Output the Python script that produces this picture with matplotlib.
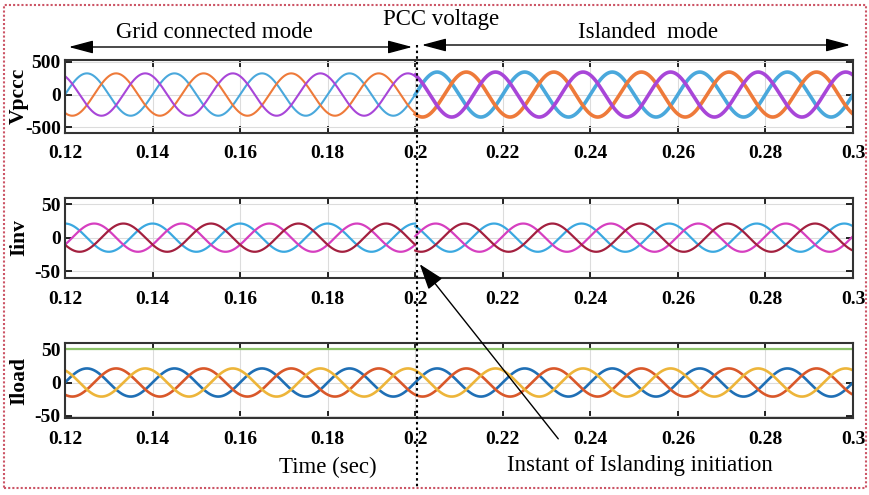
import matplotlib.pyplot as plt
import numpy as np
from matplotlib.patches import FancyArrowPatch, Rectangle
from matplotlib.lines import Line2D

plt.rcParams['font.family'] = ['Liberation Serif', 'DejaVu Serif']
plt.rcParams['axes.unicode_minus'] = False

# ---- values ----
freq = 50                      # Hz, one cycle every 0.02 s
t_start, t_island, t_end = 0.12, 0.2, 0.3

# Vpccc: peak volts and phase (deg) of each phase, grid vs islanded
vpcc_amp_grid = 325
vpcc_amp_isl = 345
vpcc_phase = [0, -120, 120]
vpcc_shift_isl = 0
vpcc_colors = ['#4aa8dc', '#ee7a3a', '#a846d8']

# Iinv: peak amps, cosine phase (deg)
iinv_amp = 21
iinv_phase = [0, -120, -240]
iinv_shift_isl = 36
iinv_colors = ['#3ba8e0', '#d63fc0', '#a3203f']

# Iload: peak amps, phase (deg), plus the flat green trace
iload_amp = 21
iload_phase = [0, -120, 120]
iload_flat = 50
iload_colors = ['#1f6fb5', '#d9582a', '#edb53a']

xticks = [0.12, 0.14, 0.16, 0.18, 0.2, 0.22, 0.24, 0.26, 0.28, 0.3]
xticklabels = ['0.12', '0.14', '0.16', '0.18', '0.2', '0.22', '0.24', '0.26', '0.28', '0.3']

W, H = 870, 495
fig = plt.figure(figsize=(W / 100, H / 100), dpi=100)


def px(x, y):
    return x / W, 1 - y / H


def add_ax(top, bottom):
    ax = fig.add_axes([65 / W, 1 - bottom / H, (853 - 65) / W, (bottom - top) / H])
    ax.set_xlim(t_start, t_end)
    ax.set_xticks(xticks)
    ax.set_xticklabels(xticklabels)
    ax.grid(True, color='#dcdcdc', lw=0.8)
    ax.set_axisbelow(True)
    ax.tick_params(direction='in', top=True, right=True, length=5, width=1.2,
                   labelsize=14, pad=3)
    ax.tick_params(axis='x', pad=9)
    for lab in ax.get_xticklabels() + ax.get_yticklabels():
        lab.set_fontweight('bold')
    for s in ax.spines.values():
        s.set_linewidth(1.5)
        s.set_color('#333333')
    return ax


tg = np.linspace(t_start, t_island, 1601)
ti = np.linspace(t_island, t_end, 2001)
w = 2 * np.pi * freq

# Vpccc
ax1 = add_ax(60, 133)
ax1.set_ylim(-590, 530)
ax1.set_yticks([-500, 0, 500])
for ph, c in zip(vpcc_phase, vpcc_colors):
    ax1.plot(tg, vpcc_amp_grid * np.sin(w * tg + np.radians(ph)), color=c, lw=1.5)
for ph, c in zip(vpcc_phase, vpcc_colors):
    ax1.plot(ti, vpcc_amp_isl * np.sin(w * ti + np.radians(ph + vpcc_shift_isl)),
             color=c, lw=2.6)

# Iinv
ax2 = add_ax(198, 278)
ax2.set_ylim(-60, 59)
ax2.set_yticks([-50, 0, 50])
for ph, c in zip(iinv_phase, iinv_colors):
    ax2.plot(tg, iinv_amp * np.cos(w * tg + np.radians(ph)), color=c, lw=1.6)
    ax2.plot(ti, iinv_amp * np.cos(w * ti + np.radians(ph + iinv_shift_isl)),
             color=c, lw=1.6)

# Iload
ax3 = add_ax(343, 418)
ax3.set_ylim(-53, 59)
ax3.set_yticks([-50, 0, 50])
ta = np.concatenate([tg, ti[1:]])
for ph, c in zip(iload_phase, iload_colors):
    ax3.plot(ta, iload_amp * np.sin(w * ta + np.radians(ph)), color=c, lw=1.9)
ax3.plot([t_start, t_end], [iload_flat, iload_flat], color='#8cc26a', lw=1.6)

# y labels
for name, yc in [('Vpccc', 96), ('Iinv', 238), ('Iload', 381)]:
    fig.text(*px(19, yc), name, rotation=90, ha='center', va='center',
             fontsize=15.5, fontweight='bold')

# annotations on top
fig.text(*px(214, 33), 'Grid connected mode', ha='center', va='center', fontsize=16.5)
fig.text(*px(441, 19), 'PCC voltage', ha='center', va='center', fontsize=16.5)
fig.text(*px(648, 33), 'Islanded  mode', ha='center', va='center', fontsize=16.5)
fig.text(*px(328, 467), 'Time (sec)', ha='center', va='center', fontsize=16.5)
fig.text(*px(640, 465), 'Instant of Islanding initiation', ha='center', va='center',
         fontsize=16.5)

for x0, x1, y in [(66, 415, 47), (419, 853, 45)]:
    fig.patches.append(FancyArrowPatch(px(x0, y), px(x1, y), transform=fig.transFigure,
                                       arrowstyle='<|-|>,head_length=1.5,head_width=0.4',
                                       mutation_scale=10, color='black', lw=1.0))

# islanding instant marker
fig.lines.append(Line2D([417 / W, 417 / W], [1 - 45 / H, 1 - 488 / H],
                        transform=fig.transFigure, color='black', lw=1.5,
                        linestyle=(0, (1.2, 1.5))))
fig.patches.append(FancyArrowPatch(px(560, 441), px(418, 262), transform=fig.transFigure,
                                   arrowstyle='-|>,head_length=1.6,head_width=0.55',
                                   mutation_scale=10, color='black', lw=1.0))

# dotted frame around the figure
fig.patches.append(Rectangle(px(4, 488), 862 / W, 483 / H, transform=fig.transFigure,
                             fill=False, edgecolor='#cc5566', lw=1.5,
                             linestyle=(0, (1, 1))))

fig.savefig('out.png', dpi=100)
